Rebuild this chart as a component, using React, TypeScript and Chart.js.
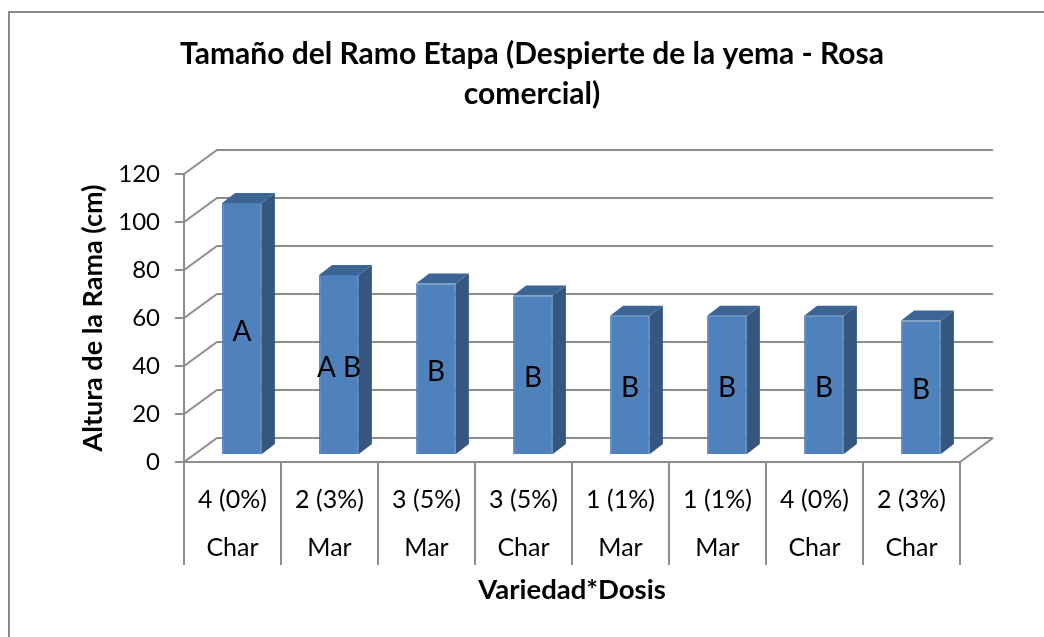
import React, { useEffect, useRef } from "react";
import { Chart, registerables } from "chart.js";

Chart.register(...registerables);

const doseLabels = ["4 (0%)", "2 (3%)", "3 (5%)", "3 (5%)", "1 (1%)", "1 (1%)", "4 (0%)", "2 (3%)"];
const varietyLabels = ["Char", "Mar", "Mar", "Char", "Mar", "Mar", "Char", "Char"];
const heights = [105, 75, 71.5, 66.5, 58, 58, 58, 56];
const groupLetters = ["A", "A B", "B", "B", "B", "B", "B", "B"];
const titleLines = ["Tamaño del Ramo Etapa (Despierte de la yema - Rosa", "comercial)"];
const yTitle = "Altura de la Rama (cm)";
const xTitle = "Variedad*Dosis";

const FONT = "Lato";
const GRID = "#8c8c8c";
// oblique depth of the floor / back wall
const WALL_DX = 33;
const WALL_DY = -24;
// shift of the bar front face inside the depth
const BAR_SHIFT_X = 9.5;
const BAR_SHIFT_Y = -7;
// depth of each bar
const BAR_DX = 13;
const BAR_DY = -10;

const threeD = {
  id: "threeD",
  beforeDraw(chart: any) {
    const ctx = chart.ctx;
    ctx.save();
    ctx.fillStyle = "#ffffff";
    ctx.fillRect(0, 0, chart.width, chart.height);
    ctx.strokeStyle = "#8a8a8a";
    ctx.lineWidth = 2;
    ctx.strokeRect(9, 12, chart.width + 40, chart.height + 40);
    ctx.fillStyle = "#000000";
    ctx.font = `bold 30px ${FONT}`;
    ctx.textAlign = "center";
    ctx.textBaseline = "middle";
    ctx.fillText(titleLines[0], 532, 54);
    ctx.fillText(titleLines[1], 532, 94);
    ctx.restore();
  },
  beforeDatasetsDraw(chart: any) {
    const ctx = chart.ctx;
    const ys = chart.scales.y;
    const { left, right, bottom } = chart.chartArea;
    ctx.save();
    ctx.strokeStyle = GRID;
    ctx.lineWidth = 2;
    ys.ticks.forEach((t: any) => {
      const py = ys.getPixelForValue(t.value);
      ctx.beginPath();
      ctx.moveTo(left, py);
      ctx.lineTo(left + WALL_DX, py + WALL_DY);
      ctx.lineTo(right + WALL_DX, py + WALL_DY);
      ctx.stroke();
    });
    ctx.beginPath();
    ctx.moveTo(right, bottom);
    ctx.lineTo(right + WALL_DX, bottom + WALL_DY);
    ctx.stroke();
    ctx.restore();
    ctx.save();
    ctx.translate(BAR_SHIFT_X, BAR_SHIFT_Y);
  },
  afterDatasetsDraw(chart: any) {
    const ctx = chart.ctx;
    const meta = chart.getDatasetMeta(0);
    meta.data.forEach((bar: any, i: number) => {
      const { x, y, base, width } = bar.getProps(["x", "y", "base", "width"], true);
      const l = x - width / 2;
      const r = x + width / 2;
      ctx.fillStyle = "#34567f";
      ctx.beginPath();
      ctx.moveTo(r, y);
      ctx.lineTo(r + BAR_DX, y + BAR_DY);
      ctx.lineTo(r + BAR_DX, base + BAR_DY);
      ctx.lineTo(r, base);
      ctx.closePath();
      ctx.fill();
      ctx.fillStyle = "#3c6596";
      ctx.beginPath();
      ctx.moveTo(l, y);
      ctx.lineTo(l + BAR_DX, y + BAR_DY);
      ctx.lineTo(r + BAR_DX, y + BAR_DY);
      ctx.lineTo(r, y);
      ctx.closePath();
      ctx.fill();
      ctx.fillStyle = "#000000";
      ctx.font = `28px ${FONT}`;
      ctx.textAlign = "center";
      ctx.textBaseline = "middle";
      ctx.fillText(groupLetters[i], x, (y + base) / 2 + 3);
    });
    ctx.restore();
  },
};

export default function App() {
  const ref = useRef<HTMLCanvasElement>(null);
  useEffect(() => {
    const chart = new Chart(ref.current!, {
      type: "bar",
      data: {
        labels: doseLabels.map((d, i) => [d, varietyLabels[i]]),
        datasets: [
          {
            data: heights,
            backgroundColor: "#4f81bd",
            borderColor: "#4a7ab6",
            borderWidth: 1,
            categoryPercentage: 1,
            barPercentage: 0.41,
            clip: false as any,
          },
        ],
      },
      options: {
        responsive: false,
        animation: false,
        layout: { padding: { left: 0, right: 84, top: 174, bottom: 0 } },
        plugins: {
          legend: { display: false },
          tooltip: { enabled: false },
          title: { display: false },
        },
        scales: {
          x: {
            offset: true,
            grid: {
              offset: true,
              drawOnChartArea: false,
              drawTicks: true,
              tickLength: 103,
              color: GRID,
              lineWidth: 2,
            },
            border: { display: true, color: GRID, width: 2 },
            ticks: {
              color: "#000",
              font: { family: FONT, size: 25, lineHeight: 48 / 25 },
              padding: -89,
              maxRotation: 0,
              autoSkip: false,
            },
            title: {
              display: true,
              text: xTitle,
              color: "#000",
              font: { family: FONT, size: 27.5, weight: "bold", lineHeight: 1.2 },
              padding: { top: 0, bottom: 30 },
            },
            afterFit(scale: any) {
              scale.height = 175;
            },
          },
          y: {
            min: 0,
            max: 120,
            ticks: {
              stepSize: 20,
              color: "#000",
              font: { family: FONT, size: 24 },
              padding: 15,
            },
            grid: {
              drawOnChartArea: false,
              drawTicks: true,
              tickLength: 9,
              color: GRID,
              lineWidth: 2,
            },
            border: { display: true, color: GRID, width: 2 },
            title: {
              display: true,
              text: yTitle,
              color: "#000",
              font: { family: FONT, size: 27, weight: "bold", lineHeight: 1.2 },
              padding: { top: 77, bottom: 0 },
            },
            afterFit(scale: any) {
              scale.width = 184;
            },
          },
        },
      },
      plugins: [threeD],
    });
    return () => chart.destroy();
  }, []);
  return (
    <div style={{ position: "fixed", left: 0, top: 0, width: 1044, height: 637 }}>
      <canvas ref={ref} width={1044} height={637} />
    </div>
  );
}
